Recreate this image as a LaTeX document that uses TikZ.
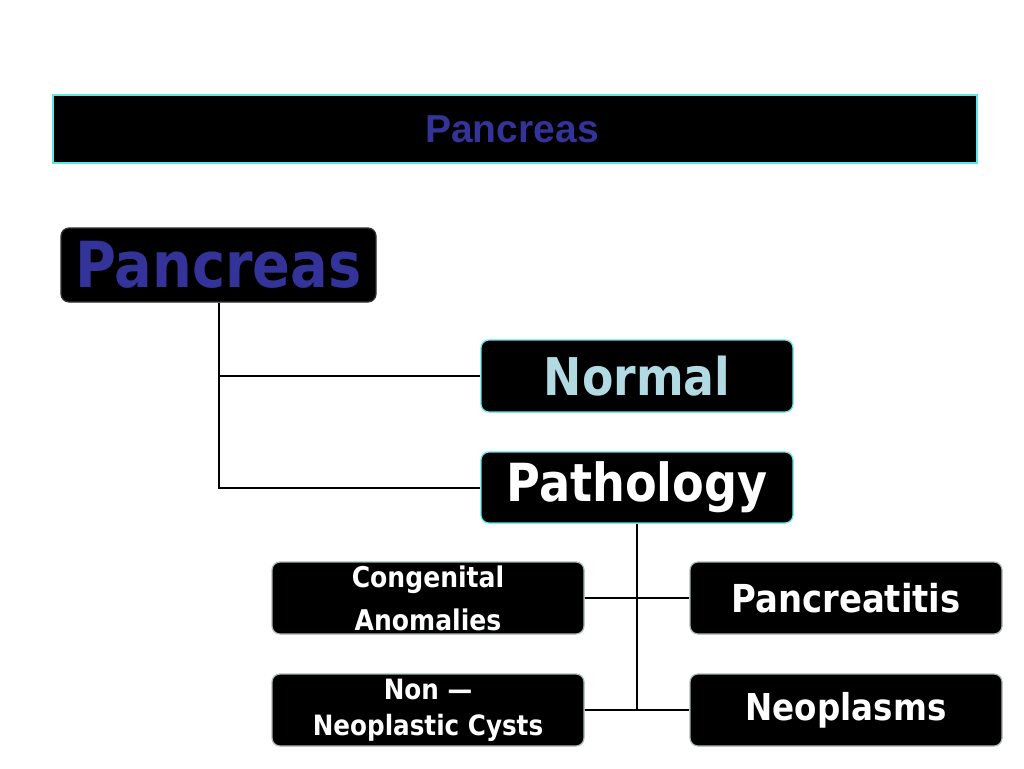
\documentclass[tikz,border=0pt]{standalone}
\usepackage{fontspec}
\newfontfamily\tahb{DejaVu Sans}[FakeStretch=0.88]
\newfontfamily\arialb{Liberation Sans}
\definecolor{pblue}{HTML}{333399}
\definecolor{nblue}{HTML}{B2DAE2}
\definecolor{cyanb}{HTML}{5CE6E6}
\definecolor{grayb}{HTML}{A8B8B8}
\tikzset{
  box/.style={rectangle, rounded corners=8pt, fill=black, line width=1.2pt, inner sep=0pt, align=center},
  bigbox/.style={box, draw=cyanb, minimum width=312pt, minimum height=72pt},
  smallbox/.style={box, draw=grayb, minimum width=312pt, minimum height=72pt, text=white},
  conn/.style={draw=black, line width=2pt}
}
\begin{document}
\begin{tikzpicture}[x=1pt,y=-1pt]
\useasboundingbox[fill=white] (0,0) rectangle (1024,768);
\node[rectangle, fill=black, draw=cyanb, line width=1.2pt, minimum width=924pt, minimum height=68pt, inner sep=0pt,
  text=pblue, font=\arialb\bfseries\fontsize{39}{44}\selectfont] (title) at (515,129) {\hspace*{-6pt}Pancreas};
\node[box, draw=black!80, minimum width=315pt, minimum height=74pt, text=pblue,
  font=\tahb\bfseries\fontsize{63.5}{70}\selectfont] (pan) at (218.5,265) {Pancreas};
\node[bigbox, text=nblue, font=\tahb\bfseries\fontsize{52}{58}\selectfont] (norm) at (637,376) {Normal};
\node[bigbox, text=white, font=\tahb\bfseries\fontsize{52.5}{58}\selectfont, minimum height=71pt] (path) at (637,487.5) {Pathology};
\node[smallbox, font=\tahb\bfseries\fontsize{28.5}{43}\selectfont] (cong) at (428,598) {Congenital\\Anomalies};
\node[smallbox, font=\tahb\bfseries\fontsize{38.5}{44}\selectfont] (panc) at (846,598) {Pancreatitis};
\node[smallbox, font=\tahb\bfseries\fontsize{28}{36}\selectfont] (non) at (428,710) {Non —\\Neoplastic Cysts};
\node[smallbox, font=\tahb\bfseries\fontsize{37}{44}\selectfont] (neo) at (846,710) {Neoplasms};
\draw[conn] (pan.south) -- (pan.south |- path.west) -- (path.west);
\draw[conn] (pan.south |- norm.west) -- (norm.west);
\draw[conn] (path.south) -- (path.south |- neo.west);
\draw[conn] (cong.east) -- (panc.west);
\draw[conn] (non.east) -- (neo.west);
\end{tikzpicture}
\end{document}
